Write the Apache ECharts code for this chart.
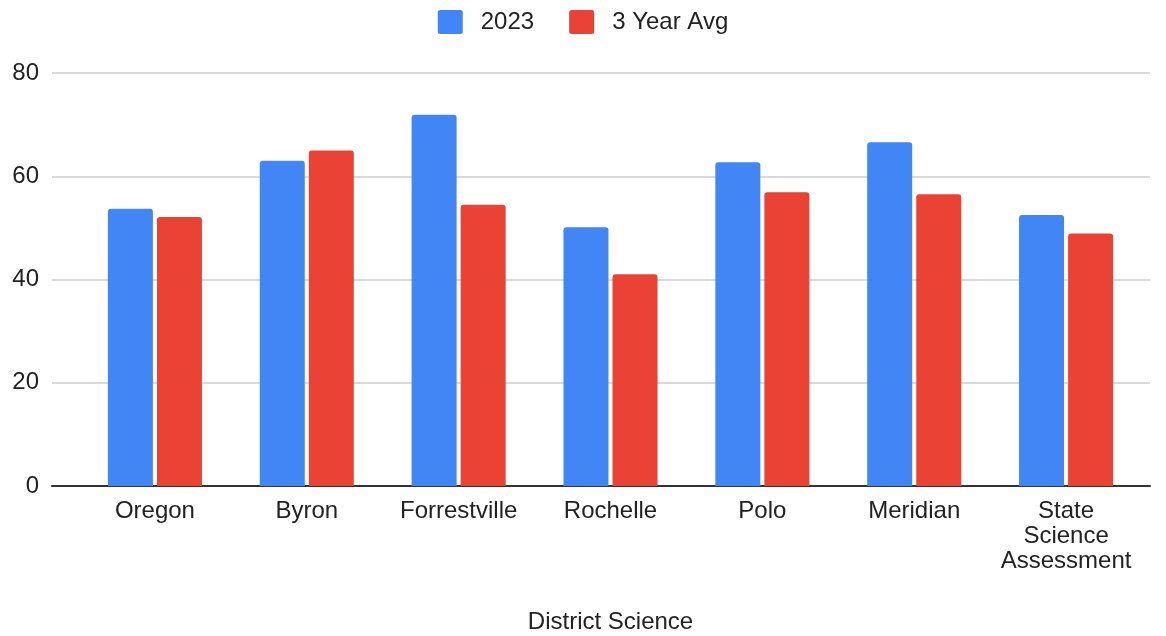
<!DOCTYPE html>
<html>
<head>
<meta charset="utf-8">
<script src="https://cdn.jsdelivr.net/npm/echarts@6/dist/echarts.min.js"></script>
<style>
  html, body { margin: 0; padding: 0; background: #fff; }
  #chart { width: 1166px; height: 636px; }
</style>
</head>
<body>
<div id="chart"></div>
<script>
// District science scores by school, 2023 vs three-year average
const categories = ['Oregon', 'Byron', 'Forrestville', 'Rochelle', 'Polo', 'Meridian', 'State\nScience\nAssessment'];
const scores2023 = [53.7, 63.0, 71.9, 50.1, 62.7, 66.6, 52.5];
const threeYearAvg = [52.1, 65.0, 54.5, 41.0, 56.9, 56.5, 48.9];
const yTicks = { min: 0, max: 80, interval: 20 };

const FONT = '"Liberation Sans", Arial, sans-serif';
const TEXT = '#222';
const FS = 24;

// legend swatch: square with slightly rounded corners
const SWATCH = 'path://M2.5,0H22.5Q25,0 25,2.5V21.5Q25,24 22.5,24H2.5Q0,24 0,21.5V2.5Q0,0 2.5,0Z';

const chart = echarts.init(document.getElementById('chart'), null, { renderer: 'canvas' });

chart.setOption({
  animation: false,
  backgroundColor: '#fff',
  textStyle: { fontFamily: FONT },
  legend: {
    top: 10,
    left: 'center',
    padding: 0,
    icon: SWATCH,
    itemWidth: 25,
    itemHeight: 24,
    itemGap: 35,
    textStyle: { fontFamily: FONT, fontSize: FS, color: TEXT, padding: [0, 0, 0, 13] },
    data: ['2023', '3 Year Avg']
  },
  grid: [
    // frame: gridlines, y labels and baseline
    { left: 52, right: 16, top: 73, bottom: 150, outerBoundsMode: 'none' },
    // bars and category labels
    { left: 79, right: 24, top: 73, bottom: 150, outerBoundsMode: 'none' }
  ],
  xAxis: [
    {
      gridIndex: 0,
      type: 'category',
      data: categories,
      axisLine: { show: true, lineStyle: { color: '#333', width: 2 } },
      axisTick: { show: false },
      axisLabel: { show: false },
      splitLine: { show: false }
    },
    {
      gridIndex: 1,
      type: 'category',
      data: categories,
      axisLine: { show: false },
      axisTick: { show: false },
      axisLabel: {
        fontFamily: FONT, fontSize: FS, color: TEXT, lineHeight: 25, margin: 13, interval: 0
      },
      name: 'District Science',
      nameLocation: 'middle',
      nameGap: 124,
      nameTextStyle: { fontFamily: FONT, fontSize: FS, color: TEXT }
    }
  ],
  yAxis: [
    {
      gridIndex: 0,
      type: 'value',
      min: yTicks.min, max: yTicks.max, interval: yTicks.interval,
      axisLine: { show: false },
      axisTick: { show: false },
      axisLabel: { fontFamily: FONT, fontSize: FS, color: TEXT, margin: 13 },
      splitLine: { show: true, lineStyle: { color: '#ccc', width: 1.5 } }
    },
    {
      gridIndex: 1,
      type: 'value',
      min: yTicks.min, max: yTicks.max, interval: yTicks.interval,
      axisLine: { show: false },
      axisTick: { show: false },
      axisLabel: { show: false },
      splitLine: { show: false }
    }
  ],
  series: [
    {
      name: '2023',
      type: 'bar',
      xAxisIndex: 1, yAxisIndex: 1,
      data: scores2023,
      barWidth: 45,
      barGap: '9%',
      itemStyle: { color: '#4285f4', borderRadius: [3, 3, 0, 0] },
      z: 3
    },
    {
      name: '3 Year Avg',
      type: 'bar',
      xAxisIndex: 1, yAxisIndex: 1,
      data: threeYearAvg,
      barWidth: 45,
      barGap: '9%',
      itemStyle: { color: '#ea4335', borderRadius: [3, 3, 0, 0] },
      z: 3
    }
  ]
});
</script>
</body>
</html>
